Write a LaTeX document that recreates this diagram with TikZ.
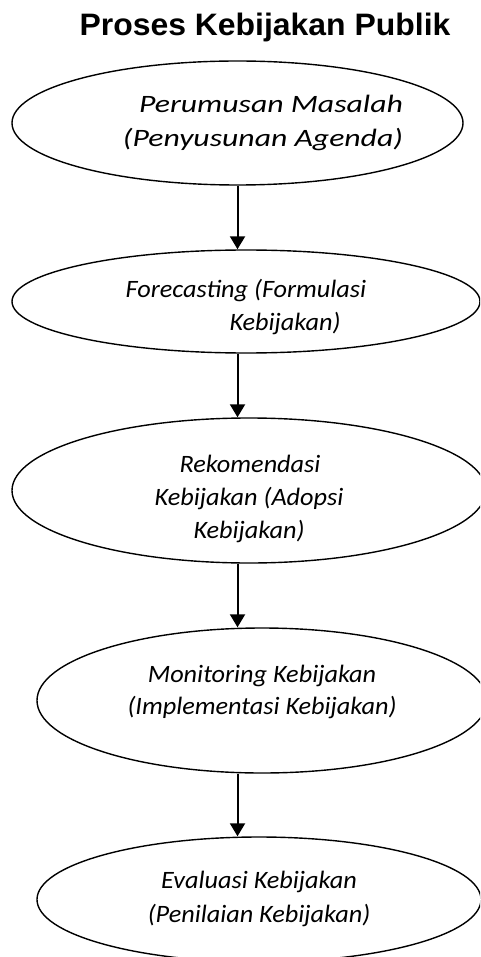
\documentclass[tikz,border=0pt]{standalone}
\usepackage{fontspec}
\usetikzlibrary{shapes.geometric,arrows.meta}
\newfontfamily\bodyfont{Carlito}[FakeStretch=1.05]
\newfontfamily\widefont{Carlito}[FakeStretch=1.27]
\newfontfamily\titlefont{Liberation Sans}[FakeStretch=1.03]
\begin{document}
\begin{tikzpicture}[x=1pt,y=-1pt,
  stage/.style={ellipse,draw,line width=1.4pt,inner sep=0pt},
  lbl/.style={anchor=base,inner sep=0pt,font=\bodyfont\itshape\fontsize{25}{30}\selectfont},
  wlbl/.style={anchor=base,inner sep=0pt,font=\widefont\itshape\fontsize{25}{30}\selectfont},
  ttl/.style={anchor=base,inner sep=0pt,font=\titlefont\bfseries\fontsize{31}{36}\selectfont},
  flow/.style={-{Triangle[width=15pt,length=13pt]},line width=2pt}]
\useasboundingbox (0,0) rectangle (480,957);
\clip (0,0) rectangle (480,957);
\node[ttl] (title) at (265,35.7) {Proses Kebijakan Publik};
% ellipses
\node[stage,minimum width=451pt,minimum height=124pt] (e1) at (237.5,123) {};
\node[stage,minimum width=468pt,minimum height=103pt] (e2) at (246,301.5) {};
\node[stage,minimum width=474pt,minimum height=145pt] (e3) at (249,490.5) {};
\node[stage,minimum width=450pt,minimum height=145pt] (e4) at (262,700.5) {};
\node[stage,minimum width=444pt,minimum height=125pt] (e5) at (259,899.5) {};
% labels
\node[wlbl] (t1a) at (271,113) {Perumusan Masalah};
\node[wlbl] (t1b) at (263,147) {(Penyusunan Agenda)};
\node[lbl] (t2a) at (246,297) {Forecasting (Formulasi};
\node[lbl] (t2b) at (285,330) {Kebijakan)};
\node[lbl] (t3a) at (250,472) {Rekomendasi};
\node[lbl] (t3b) at (249,505) {Kebijakan (Adopsi};
\node[lbl] (t3c) at (249,538) {Kebijakan)};
\node[lbl] (t4a) at (262,682) {Monitoring Kebijakan};
\node[lbl] (t4b) at (262,714) {(Implementasi Kebijakan)};
\node[lbl] (t5a) at (259,888) {Evaluasi Kebijakan};
\node[lbl] (t5b) at (259,922) {(Penilaian Kebijakan)};
% arrows
\draw[flow] (e1.south) -- (e1.south |- e2.north);
\draw[flow] (e2.south -| e1.south) -- (e1.south |- e3.north);
\draw[flow] (e3.south -| e1.south) -- (e1.south |- e4.north);
\draw[flow] (e4.south -| e1.south) -- (e1.south |- e5.north);
\end{tikzpicture}
\end{document}
